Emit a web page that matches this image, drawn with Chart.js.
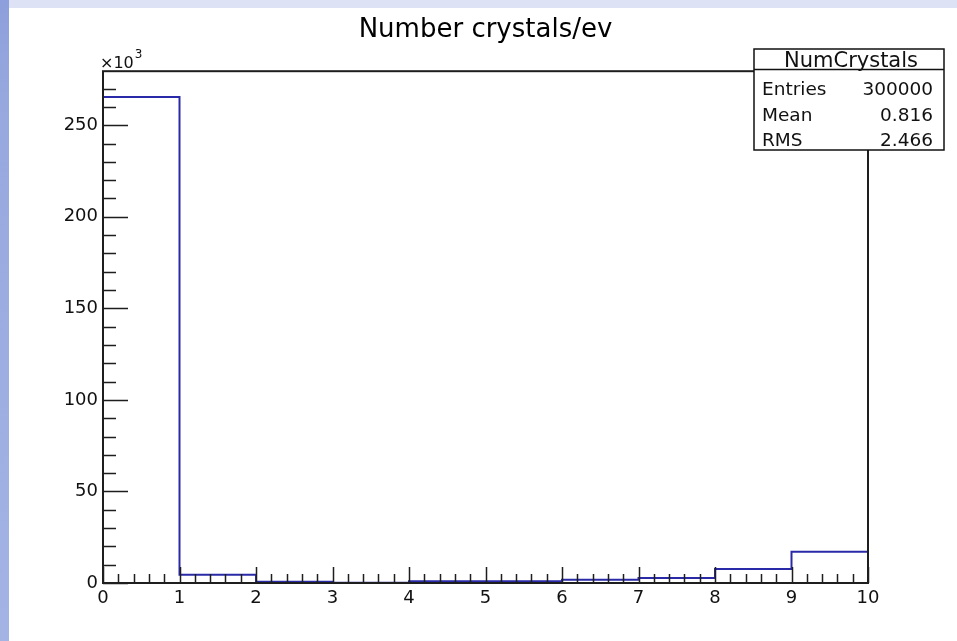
<!DOCTYPE html>
<html>
<head>
<meta charset="utf-8">
<script src="https://cdn.jsdelivr.net/npm/chart.js@4/dist/chart.umd.min.js"></script>
<style>
  html, body { margin: 0; padding: 0; background: #ffffff; }
  #wrap { width: 957px; height: 641px; position: relative; }
</style>
</head>
<body>
<div id="wrap"><canvas id="c" width="957" height="641"></canvas></div>
<script>
// Histogram: number of crystals per event
const chartTitle = 'Number crystals/ev';
const binEdges = [0, 1, 2, 3, 4, 5, 6, 7, 8, 9, 10];
const binCounts = [265400, 4500, 700, 200, 900, 900, 1800, 2700, 7600, 17100];

// Axis ranges, labelled ticks and minor tick spacing
const xRange = [0, 10];
const yRange = [0, 279500];
const xTickValues = [0, 1, 2, 3, 4, 5, 6, 7, 8, 9, 10];
const yTickValues = [0, 50000, 100000, 150000, 200000, 250000];
const xMinorStep = 0.2;
const yMinorStep = 10000;
const yExponentBase = '\u00d710';
const yExponent = '3';

// Statistics box
const statsTitle = 'NumCrystals';
const statsLabels = ['Entries', 'Mean', 'RMS'];
const statsValues = ['300000', '0.816', '2.466'];

const FONT = "'DejaVu Sans', 'Liberation Sans', sans-serif";

// Outline of the histogram: each bin contributes its two top corners
function outlinePoints(edges, counts) {
  const pts = [{ x: edges[0], y: 0 }];
  for (let i = 0; i < counts.length; i++) {
    pts.push({ x: edges[i], y: counts[i] });
    pts.push({ x: edges[i + 1], y: counts[i] });
  }
  pts.push({ x: edges[edges.length - 1], y: 0 });
  return pts;
}

const pageBackground = {
  id: 'pageBackground',
  beforeDraw(chart) {
    const ctx = chart.ctx;
    const w = chart.width, h = chart.height;
    ctx.save();
    ctx.fillStyle = '#ffffff';
    ctx.fillRect(0, 0, w, h);
    ctx.fillStyle = '#dde3f4';
    ctx.fillRect(0, 0, w, 8);
    const g = ctx.createLinearGradient(0, 0, 0, h);
    g.addColorStop(0, '#8d9fdc');
    g.addColorStop(0.15, '#97a8df');
    g.addColorStop(1, '#a3b3e4');
    ctx.fillStyle = g;
    ctx.fillRect(0, 0, 9, h);
    ctx.restore();
  }
};

const frameAndTicks = {
  id: 'frameAndTicks',
  afterDatasetsDraw(chart) {
    const ctx = chart.ctx;
    const a = chart.chartArea;
    const xs = chart.scales.x, ys = chart.scales.y;
    ctx.save();
    ctx.strokeStyle = '#1e1e1e';
    ctx.lineWidth = 1.5;
    ctx.beginPath();
    // minor ticks on both axes, pointing into the frame
    const nx = Math.round((xRange[1] - xRange[0]) / xMinorStep);
    for (let i = 0; i <= nx; i++) {
      const px = Math.round(xs.getPixelForValue(xRange[0] + i * xMinorStep)) + 0.5;
      ctx.moveTo(px, a.bottom);
      ctx.lineTo(px, a.bottom - 9);
    }
    const ny = Math.floor((yRange[1] - yRange[0]) / yMinorStep);
    for (let i = 0; i <= ny; i++) {
      const py = Math.round(ys.getPixelForValue(yRange[0] + i * yMinorStep)) + 0.5;
      ctx.moveTo(a.left, py);
      ctx.lineTo(a.left + 13, py);
    }
    // major ticks at the labelled values
    xTickValues.forEach(v => {
      const px = Math.round(xs.getPixelForValue(v)) + 0.5;
      ctx.moveTo(px, a.bottom);
      ctx.lineTo(px, a.bottom - 16);
    });
    yTickValues.forEach(v => {
      const py = Math.round(ys.getPixelForValue(v)) + 0.5;
      ctx.moveTo(a.left, py);
      ctx.lineTo(a.left + 25, py);
    });
    ctx.stroke();
    // frame
    ctx.lineWidth = 2;
    ctx.strokeRect(a.left, a.top, a.right - a.left, a.bottom - a.top);
    ctx.restore();
  },
  afterDraw(chart) {
    const ctx = chart.ctx;
    const a = chart.chartArea;
    ctx.save();
    // axis exponent
    ctx.fillStyle = '#111';
    ctx.textBaseline = 'alphabetic';
    ctx.textAlign = 'left';
    ctx.font = '16px ' + FONT;
    ctx.fillText(yExponentBase, a.left - 3, a.top - 3);
    const wBase = ctx.measureText(yExponentBase).width;
    ctx.font = '12px ' + FONT;
    ctx.fillText(yExponent, a.left - 3 + wBase + 1, a.top - 13);

    // statistics box
    const bx = 754, by = 49, bw = 190, bh = 101, sep = 69.5;
    ctx.fillStyle = '#ffffff';
    ctx.fillRect(bx, by, bw, bh);
    ctx.strokeStyle = '#111';
    ctx.lineWidth = 1.5;
    ctx.strokeRect(bx, by, bw, bh);
    ctx.beginPath();
    ctx.moveTo(bx, sep);
    ctx.lineTo(bx + bw, sep);
    ctx.stroke();
    ctx.fillStyle = '#111';
    ctx.font = '21px ' + FONT;
    ctx.textAlign = 'center';
    ctx.fillText(statsTitle, bx + bw / 2 + 2, 67);
    ctx.font = '18.5px ' + FONT;
    const rows = [95, 120.5, 146];
    statsLabels.forEach((lab, i) => {
      ctx.textAlign = 'left';
      ctx.fillText(lab, 762, rows[i]);
      ctx.textAlign = 'right';
      ctx.fillText(statsValues[i], 933, rows[i]);
    });
    ctx.restore();
  }
};

new Chart(document.getElementById('c'), {
  type: 'line',
  data: {
    datasets: [{
      data: outlinePoints(binEdges, binCounts),
      borderColor: '#2a2aa8',
      borderWidth: 2,
      pointRadius: 0,
      tension: 0,
      fill: false
    }]
  },
  options: {
    responsive: false,
    animation: false,
    devicePixelRatio: 1,
    layout: { padding: { left: 0, right: 89, top: 0, bottom: 28 } },
    plugins: {
      legend: { display: false },
      tooltip: { enabled: false },
      title: {
        display: true,
        text: chartTitle,
        fullSize: false,
        color: '#000',
        font: { family: FONT, size: 26, weight: 'normal' },
        padding: { top: 15, bottom: 25 }
      }
    },
    scales: {
      x: {
        type: 'linear',
        min: xRange[0],
        max: xRange[1],
        grid: { display: false, drawTicks: false },
        border: { display: false },
        afterFit(s) { s.height = 30; },
        afterBuildTicks(s) { s.ticks = xTickValues.map(v => ({ value: v })); },
        ticks: {
          color: '#111',
          padding: 5,
          maxRotation: 0,
          autoSkip: false,
          font: { family: FONT, size: 18 }
        }
      },
      y: {
        type: 'linear',
        min: yRange[0],
        max: yRange[1],
        grid: { display: false, drawTicks: false },
        border: { display: false },
        afterFit(s) { s.width = 103; },
        afterBuildTicks(s) { s.ticks = yTickValues.map(v => ({ value: v })); },
        ticks: {
          color: '#111',
          padding: 5,
          autoSkip: false,
          font: { family: FONT, size: 18 },
          callback: (v) => String(v / 1000)
        }
      }
    }
  },
  plugins: [pageBackground, frameAndTicks]
});
</script>
</body>
</html>
